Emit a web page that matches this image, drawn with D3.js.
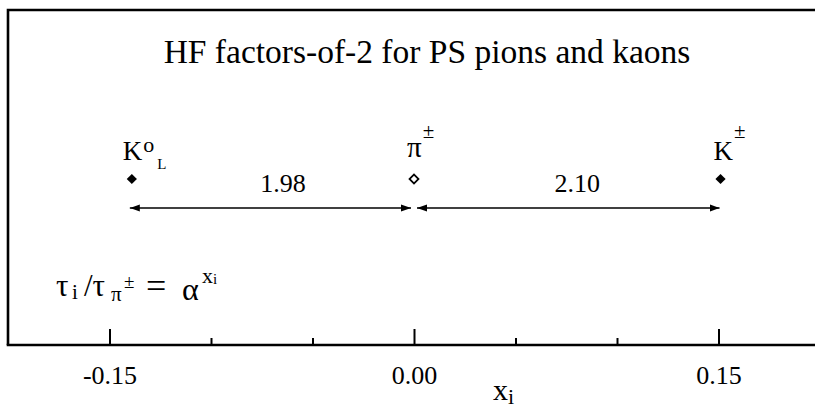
<!DOCTYPE html>
<html>
<head>
<meta charset="utf-8">
<script src="https://cdn.jsdelivr.net/npm/d3@7"></script>
</head>
<body style="margin:0">
<script>
// Lifetime exponents x_i, defined by tau_i / tau_pi = alpha^x_i
const particles = ["K0L", "pi", "Kpm"];
const xValues = [-0.139, 0.0, 0.151];
const filledMarker = [true, false, true];

// Lifetime ratios between neighbouring particles
const ratioLabels = ["1.98", "2.10"];

const majorTicks = [-0.15, 0.0, 0.15];
const minorTicks = [-0.10, -0.05, 0.05, 0.10];
const titleText = "HF factors-of-2 for PS pions and kaons";

const SERIF = "'Liberation Serif'";
const W = 815, H = 409;
const frame = { left: 8, top: 10, bottom: 345 };
const rowY = 179, arrowY = 208;

const svg = d3.select("body").append("svg")
  .attr("width", W).attr("height", H)
  .style("display", "block");

// every text element gets the serif face explicitly
const serif = (sel) => sel.attr("font-family", "Liberation Serif").style("font-family", SERIF);
const txt = (sel) => serif(sel.append("text"));

const x = d3.scaleLinear().domain([-0.2, 0.2]).range([8, 820]);

// frame: top and left edges
svg.append("path")
  .attr("d", `M${frame.left},${frame.bottom}V${frame.top}H${W + 5}`)
  .attr("fill", "none").attr("stroke", "#000").attr("stroke-width", 2.6);

// bottom axis, ticks pointing into the frame
const axisG = svg.append("g").attr("transform", `translate(0,${frame.bottom})`);
axisG.append("line")
  .attr("x1", frame.left - 1.3).attr("x2", W + 5)
  .attr("stroke", "#000").attr("stroke-width", 2.6);

const majorAxis = d3.axisBottom(x)
  .tickValues(majorTicks)
  .tickSizeInner(-16).tickSizeOuter(0)
  .tickPadding(21)
  .tickFormat(d3.format(".2f"));
const gMajor = axisG.append("g").call(majorAxis);
serif(gMajor).attr("font-size", 26);
gMajor.select(".domain").remove();
gMajor.selectAll(".tick line").attr("stroke", "#000").attr("stroke-width", 2);
serif(gMajor.selectAll(".tick text"))
  .attr("font-size", 26)
  .attr("fill", "#000")
  .text(d => d3.format(".2f")(d).replace("−", "-"));

const minorAxis = d3.axisBottom(x)
  .tickValues(minorTicks)
  .tickSizeInner(-7).tickSizeOuter(0)
  .tickFormat("");
const gMinor = axisG.append("g").call(minorAxis);
serif(gMinor);
gMinor.select(".domain").remove();
gMinor.selectAll(".tick line").attr("stroke", "#000").attr("stroke-width", 2);

// axis title x_i
const xt = txt(svg).attr("x", 493).attr("y", 400).attr("font-size", 30);
xt.append("tspan").text("x");
xt.append("tspan").attr("font-size", 22).attr("dy", 4).text("i");

// title
txt(svg)
  .attr("x", 427).attr("y", 63)
  .attr("text-anchor", "middle")
  .attr("font-size", 33.5)
  .text(titleText);

// arrow heads
const defs = svg.append("defs");
defs.append("marker")
  .attr("id", "head")
  .attr("viewBox", "0 -4 10 8")
  .attr("refX", 10).attr("refY", 0)
  .attr("markerUnits", "userSpaceOnUse")
  .attr("markerWidth", 10).attr("markerHeight", 8)
  .attr("orient", "auto-start-reverse")
  .append("path").attr("d", "M0,-3.6L10,0L0,3.6Z").attr("fill", "#000");

// double arrows between neighbouring particles, with ratio labels
const gaps = d3.pairs(xValues);
svg.selectAll("line.span")
  .data(gaps)
  .join("line")
  .attr("class", "span")
  .attr("x1", d => x(d[0]) + (d[0] === 0 ? 3 : -2))
  .attr("x2", d => x(d[1]) + (d[1] === 0 ? -3 : -1))
  .attr("y1", arrowY).attr("y2", arrowY)
  .attr("stroke", "#000").attr("stroke-width", 1.6)
  .attr("marker-start", "url(#head)")
  .attr("marker-end", "url(#head)");

serif(svg.selectAll("text.ratio")
  .data(gaps)
  .join("text")
  .attr("class", "ratio"))
  .attr("x", (d, i) => (x(d[0]) + x(d[1])) / 2 + 10)
  .attr("y", 192)
  .attr("text-anchor", "middle")
  .attr("font-size", 26)
  .text((d, i) => ratioLabels[i]);

// particle markers: square rotated into a diamond
const diamond = d3.symbol().type(d3.symbolSquare);
svg.selectAll("path.pt")
  .data(xValues)
  .join("path")
  .attr("class", "pt")
  .attr("transform", d => `translate(${x(d)},${rowY}) rotate(45)`)
  .attr("d", (d, i) => diamond.size(filledMarker[i] ? 52 : 40)())
  .attr("fill", (d, i) => filledMarker[i] ? "#000" : "#fff")
  .attr("stroke", "#000")
  .attr("stroke-width", (d, i) => filledMarker[i] ? 0 : 1.8);

// particle labels
const lab0 = txt(svg).attr("x", x(xValues[0]) - 9).attr("y", 160).attr("font-size", 27);
lab0.append("tspan").text("K");
lab0.append("tspan").attr("font-size", 22).attr("dy", -8).attr("dx", 1).text("o");
lab0.append("tspan").attr("font-size", 15).attr("dy", 17).attr("dx", 3).text("L");

const lab1 = txt(svg).attr("x", x(xValues[1]) - 7).attr("y", 157).attr("font-size", 29);
lab1.append("tspan").text("π");
lab1.append("tspan").attr("font-size", 21).attr("dy", -19).attr("dx", 1).text("±");

const lab2 = txt(svg).attr("x", x(xValues[2]) - 7).attr("y", 160).attr("font-size", 27);
lab2.append("tspan").text("K");
lab2.append("tspan").attr("font-size", 21).attr("dy", -22).attr("dx", 1).text("±");

// relation defining x_i
const rel = txt(svg).attr("y", 296).attr("font-size", 31);
rel.append("tspan").attr("x", 56).text("τ");
rel.append("tspan").attr("x", 72).attr("font-size", 21).attr("dy", 3).text("i");
rel.append("tspan").attr("x", 84).attr("dy", -3).text("/τ");
rel.append("tspan").attr("x", 111).attr("font-size", 21).attr("dy", 5).text("π");
rel.append("tspan").attr("x", 124).attr("font-size", 19).attr("dy", -13).text("±");
rel.append("tspan").attr("x", 146).attr("font-size", 36).attr("dy", 10).text("=");
rel.append("tspan").attr("x", 182).attr("font-size", 32).attr("dy", 2).text("α");
rel.append("tspan").attr("x", 202).attr("font-size", 22).attr("dy", -17).text("x");
rel.append("tspan").attr("x", 213).attr("font-size", 15).attr("dy", 1).text("i");
</script>
</body>
</html>
